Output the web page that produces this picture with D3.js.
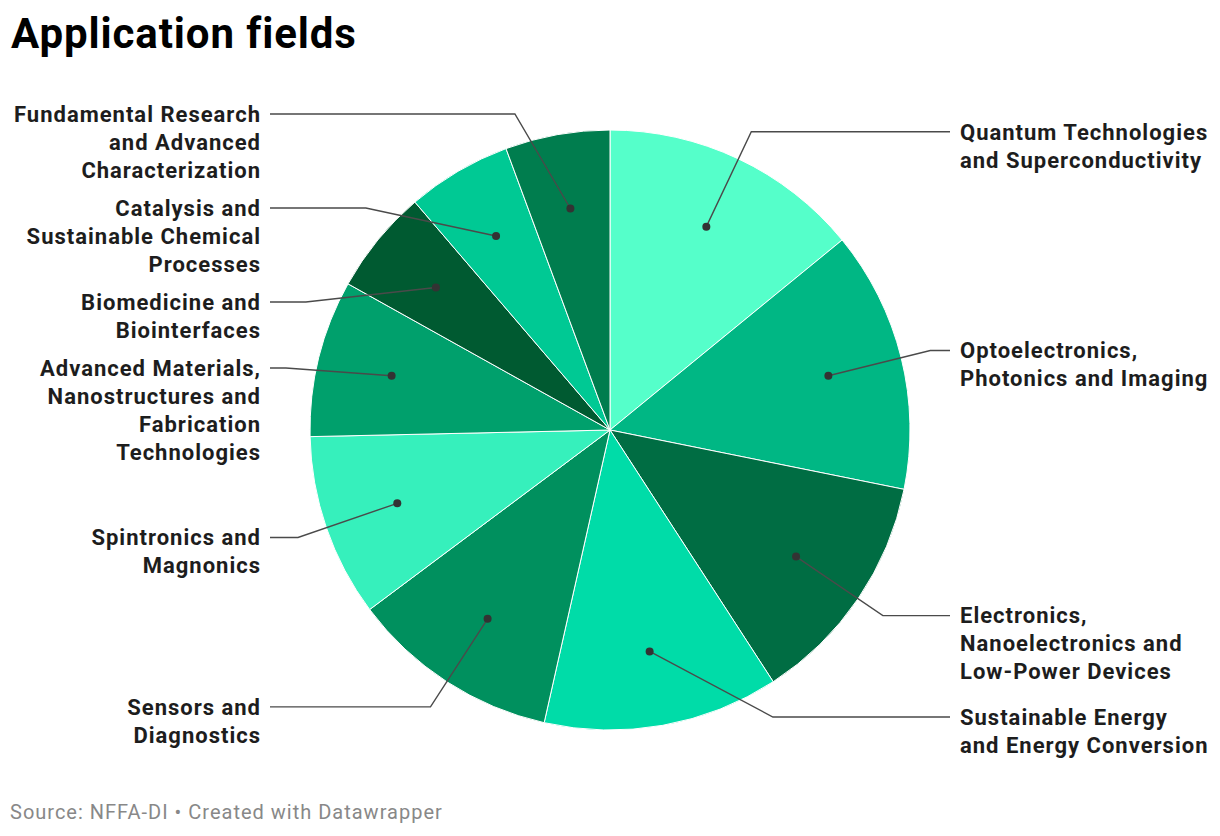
<!DOCTYPE html>
<html>
<head>
<meta charset="utf-8">
<script src="https://cdn.jsdelivr.net/npm/d3@7"></script>
<style>
  body { margin: 0; background: #fff; font-family: Roboto, "Noto Sans", sans-serif; }
  svg text { font-family: Roboto, sans-serif; }
</style>
</head>
<body>
<svg id="chart" width="1220" height="836"></svg>
<script>
// data, clockwise from 12 o'clock
var categories = [
    "Quantum Technologies and Superconductivity",
    "Optoelectronics, Photonics and Imaging",
    "Electronics, Nanoelectronics and Low-Power Devices",
    "Sustainable Energy and Energy Conversion",
    "Sensors and Diagnostics",
    "Spintronics and Magnonics",
    "Advanced Materials, Nanostructures and Fabrication Technologies",
    "Biomedicine and Biointerfaces",
    "Catalysis and Sustainable Chemical Processes",
    "Fundamental Research and Advanced Characterization"
]
var labelLines = [
    ["Quantum Technologies", "and Superconductivity"],
    ["Optoelectronics,", "Photonics and Imaging"],
    ["Electronics,", "Nanoelectronics and", "Low-Power Devices"],
    ["Sustainable Energy", "and Energy Conversion"],
    ["Sensors and", "Diagnostics"],
    ["Spintronics and", "Magnonics"],
    ["Advanced Materials,", "Nanostructures and", "Fabrication", "Technologies"],
    ["Biomedicine and", "Biointerfaces"],
    ["Catalysis and", "Sustainable Chemical", "Processes"],
    ["Fundamental Research", "and Advanced", "Characterization"]
]
var values = [10, 10, 9, 9, 8, 7, 6, 4, 4, 4]
var colors = ["#55ffca", "#00b784", "#006d43", "#00dca8", "#00905e",
              "#36f0bc", "#00a06c", "#005a31", "#00c994", "#007d4e"]

var svg = d3.select("#chart")

var cx = 610, cy = 430,
    radius = 300,
    dotRadius = radius * 0.75,
    elbowRadius = 330,
    lineH = 28,
    gap = 10,
    topLimit = 114,
    bottomLimit = 745

var data = categories.map(function(c, i) {
    return { name: c, lines: labelLines[i], value: values[i], color: colors[i] }
})

var pie = d3.pie().sort(null).value(function(d) { return d.value })
var arcs = pie(data)

var arc = d3.arc().innerRadius(0).outerRadius(radius)

// title
svg.append("text")
    .attr("x", 11)
    .attr("y", 48)
    .style("font-size", "42px")
    .style("font-weight", 700)
    .style("letter-spacing", "0.9px")
    .style("fill", "#000")
    .text("Application fields")

var g = svg.append("g").attr("transform", "translate(" + cx + "," + cy + ")")

g.selectAll("path.slice")
    .data(arcs)
    .enter().append("path")
    .attr("class", "slice")
    .attr("d", arc)
    .style("fill", function(d) { return d.data.color })
    .style("stroke", "#fff")
    .style("stroke-width", 1)

// label positions: start on the elbow circle, then push apart per side
arcs.forEach(function(d) {
    d.mid = (d.startAngle + d.endAngle) / 2
    d.side = Math.sin(d.mid) >= 0 ? "right" : "left"
    d.ly = -elbowRadius * Math.cos(d.mid)
    d.h = (d.data.lines.length - 1) * lineH
})

;["right", "left"].forEach(function(side) {
    var list = arcs.filter(function(d) { return d.side === side })
        .sort(function(a, b) { return a.ly - b.ly })
    var prev = topLimit - cy - lineH - gap
    list.forEach(function(d) {
        d.ly = Math.max(d.ly, prev + lineH + gap)
        prev = d.ly + d.h
    })
    var next = bottomLimit - cy + lineH + gap
    list.slice().reverse().forEach(function(d) {
        if (d.ly + d.h > next - lineH - gap) d.ly = next - lineH - gap - d.h
        next = d.ly
    })
})

arcs.forEach(function(d) {
    var s = d.side === "right" ? 1 : -1
    var dy = Math.max(-elbowRadius, Math.min(elbowRadius, d.ly))
    d.ex = s * Math.sqrt(elbowRadius * elbowRadius - dy * dy)
    d.dx = dotRadius * Math.sin(d.mid)
    d.dy = -dotRadius * Math.cos(d.mid)
    d.lineEnd = s * (950 - cx)
    d.textX = d.side === "right" ? 960 - cx : 261 - cx
})

g.selectAll("polyline.leader")
    .data(arcs)
    .enter().append("polyline")
    .attr("class", "leader")
    .attr("points", function(d) {
        return [[d.dx, d.dy], [d.ex, d.ly], [d.lineEnd, d.ly]].join(" ")
    })
    .style("fill", "none")
    .style("stroke", "#4a4a4a")
    .style("stroke-width", 1.4)

g.selectAll("circle.dot")
    .data(arcs)
    .enter().append("circle")
    .attr("class", "dot")
    .attr("cx", function(d) { return d.dx })
    .attr("cy", function(d) { return d.dy })
    .attr("r", 4)
    .style("fill", "#333")

var labels = g.selectAll("text.label")
    .data(arcs)
    .enter().append("text")
    .attr("class", "label")
    .attr("text-anchor", function(d) { return d.side === "right" ? "start" : "end" })
    .style("font-size", "22px")
    .style("font-weight", 700)
    .style("letter-spacing", "1px")
    .style("fill", "#1d1d1d")

labels.selectAll("tspan")
    .data(function(d) { return d.data.lines.map(function(l, i) { return { t: l, x: d.textX, y: d.ly + i * lineH } }) })
    .enter().append("tspan")
    .attr("x", function(d) { return d.x })
    .attr("y", function(d) { return d.y + 7.8 })
    .text(function(d) { return d.t })

// source line
svg.append("text")
    .attr("x", 10)
    .attr("y", 819)
    .style("font-size", "20px")
    .style("letter-spacing", "1px")
    .style("fill", "#888")
    .text("Source: NFFA-DI \u2022 Created with Datawrapper")
</script>
</body>
</html>
